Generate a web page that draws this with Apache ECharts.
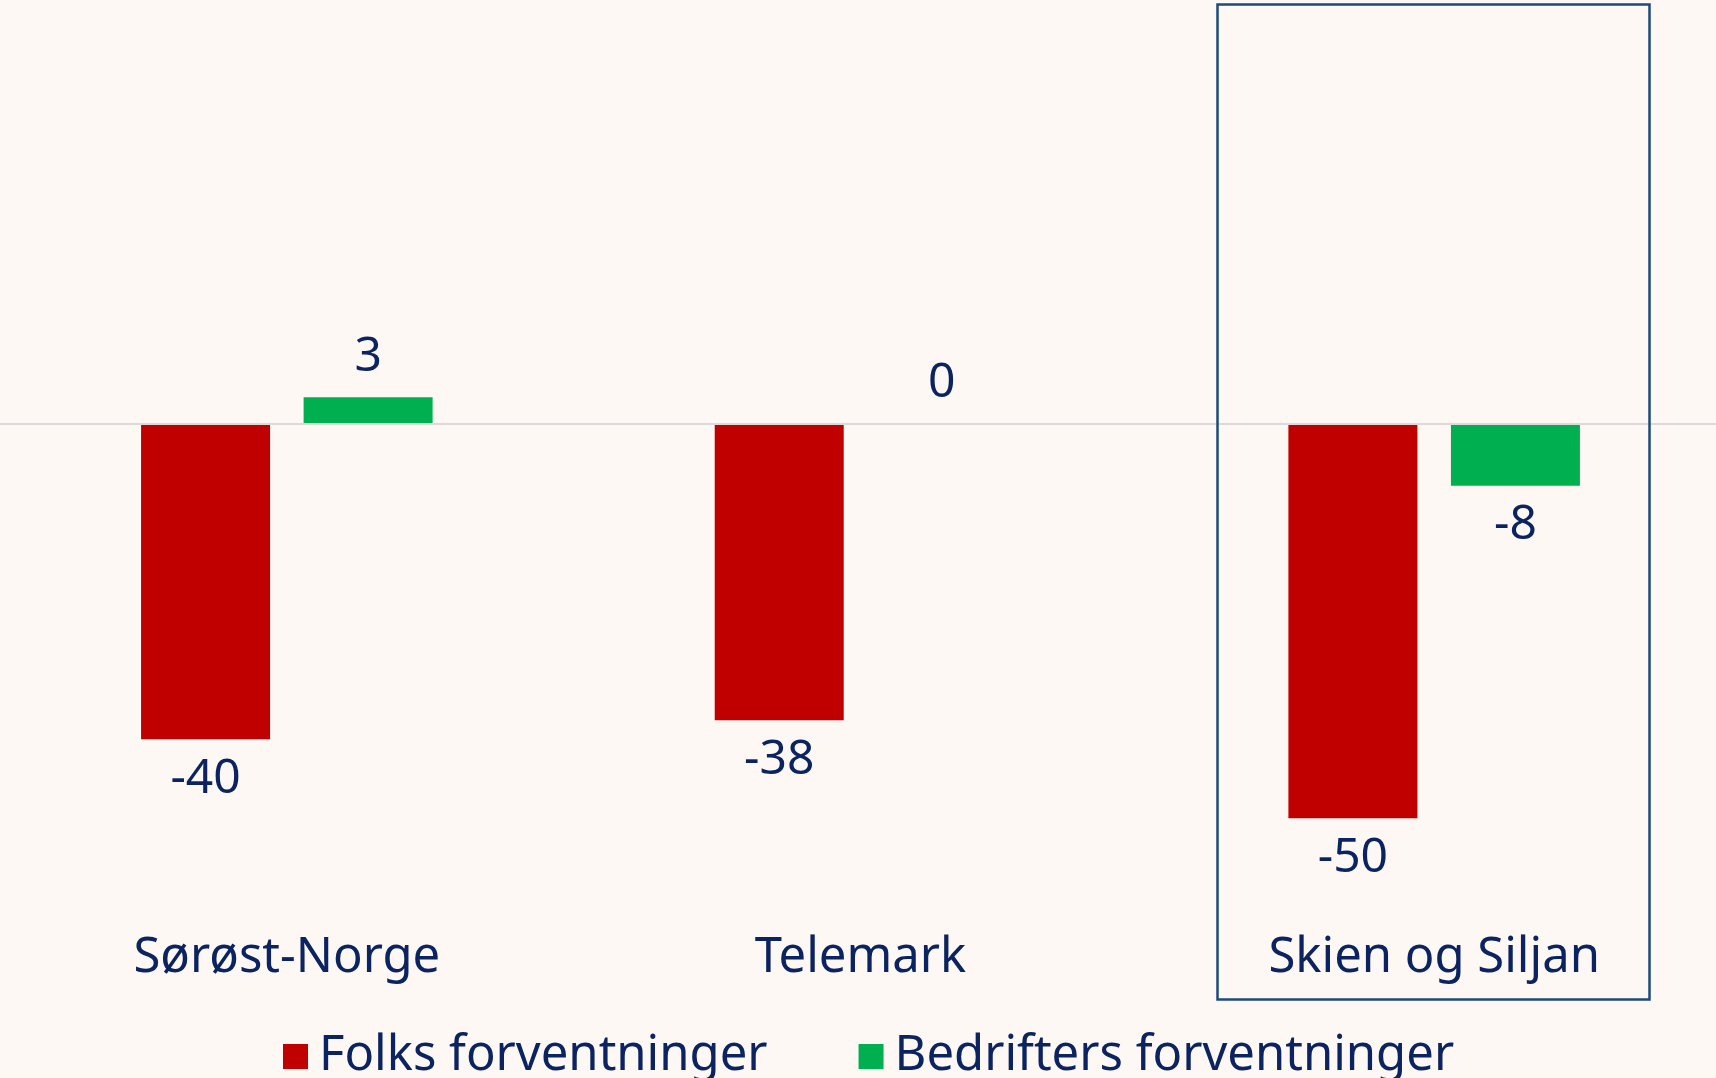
<!DOCTYPE html>
<html><head><meta charset="utf-8">
<script src="https://cdn.jsdelivr.net/npm/echarts@6/dist/echarts.min.js"></script>
<style>html,body{margin:0;padding:0;background:#FEF8F4;}#c{width:1716px;height:1078px;}</style>
</head><body><div id="c"></div>
<script>
const categories = ['Sørøst-Norge', 'Telemark', 'Skien og Siljan'];
const seriesNames = ['Folks forventninger', 'Bedrifters forventninger'];
const folks = [-40, -37.6, -50];
const bedrifter = [3.3, 0, -7.9];

const navy = '#0B2461';
const font = 'Noto Sans';

function toData(arr) {
  return arr.map(v => ({ value: v, label: { position: v < 0 ? 'bottom' : 'top' } }));
}
const labelCfg = {
  show: true, color: navy, fontFamily: font, fontSize: 48, distance: 16,
  formatter: p => String(Math.round(p.value))
};

const chart = echarts.init(document.getElementById('c'));
chart.setOption({
  backgroundColor: '#FEF8F4',
  animation: false,
  grid: { left: 0, width: 1721, top: 28.3, height: 869, outerBoundsMode: 'none', containLabel: false },
  legend: {
    left: 278, top: 1027, itemWidth: 25, itemHeight: 25, itemGap: 91,
    icon: 'rect',
    textStyle: { color: navy, fontFamily: font, fontSize: 49, padding: [0, 0, 0, 6] },
    data: seriesNames
  },
  xAxis: {
    type: 'category', data: categories,
    axisLine: { show: false }, axisTick: { show: false },
    axisLabel: { color: navy, fontFamily: font, fontSize: 49, margin: 36 }
  },
  yAxis: {
    type: 'value', min: -60, max: 50,
    axisLabel: { show: false }, splitLine: { show: false },
    axisLine: { show: false }, axisTick: { show: false }
  },
  graphic: [{
    type: 'rect', left: 1215, top: 2, z: 10, silent: true,
    shape: { width: 432, height: 995 },
    style: { fill: 'none', stroke: '#1B4A7E', lineWidth: 2.5 }
  }],
  series: [
    {
      name: seriesNames[0], type: 'bar', data: toData(folks),
      barWidth: 129, barGap: '26%',
      itemStyle: { color: '#C00000' },
      label: labelCfg,
      markLine: {
        silent: true, symbol: 'none', label: { show: false },
        lineStyle: { color: '#DCDAD8', type: 'solid', width: 2 },
        data: [{ yAxis: 0 }]
      }
    },
    {
      name: seriesNames[1], type: 'bar', data: toData(bedrifter),
      barWidth: 129, barGap: '26%',
      itemStyle: { color: '#00B050' },
      label: labelCfg
    }
  ]
});
</script></body></html>
